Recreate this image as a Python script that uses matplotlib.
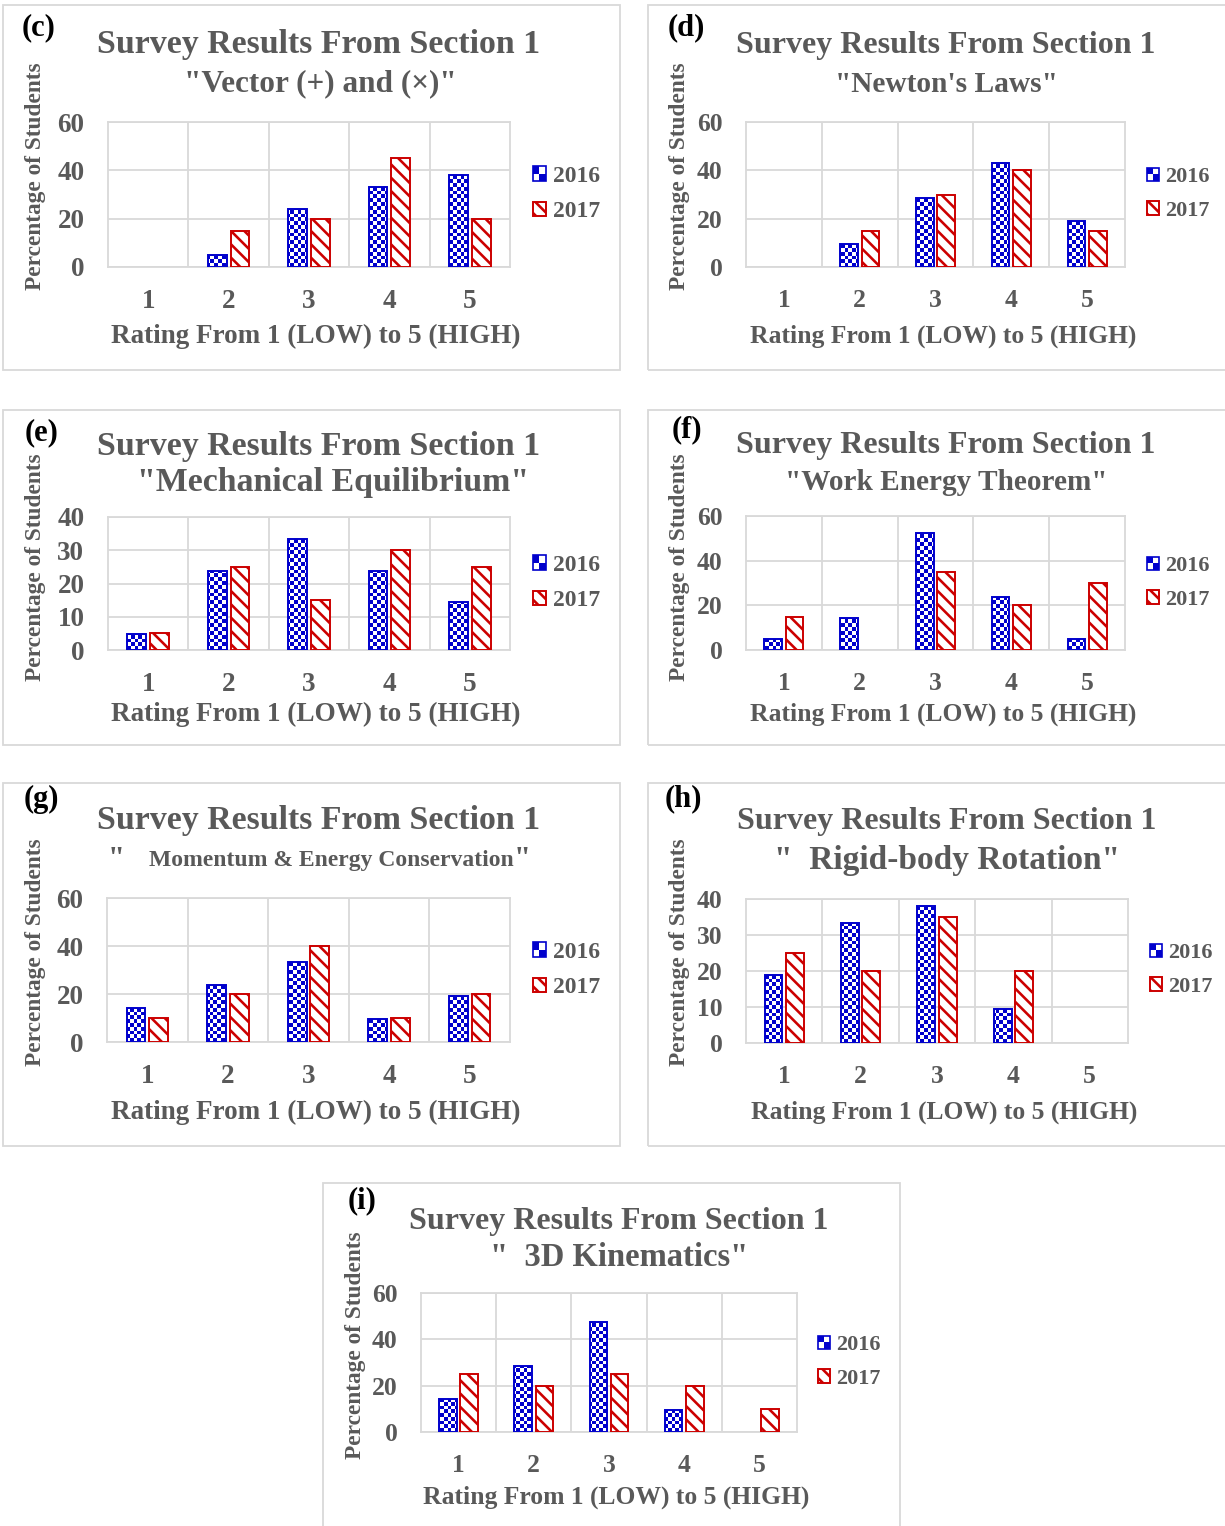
import matplotlib
matplotlib.use('Agg')
import matplotlib.pyplot as plt
import numpy as np
from matplotlib.colors import ListedColormap
from matplotlib.legend_handler import HandlerBase
from matplotlib.patches import Rectangle
from matplotlib.path import Path

# dpi 120 so that the hatch spacing matches the original (sizes below are
# given as if at 100 dpi and scaled by K)
DPI = 120
K = 100 / DPI

plt.rcParams['font.family'] = ['Liberation Serif', 'DejaVu Serif']
plt.rcParams['font.weight'] = 'bold'
plt.rcParams['hatch.linewidth'] = 2.6 * 72 / DPI

# data (percentage of students)
ratings = [1, 2, 3, 4, 5]
years = ['2016', '2017']

vector_2016 = [0, 4.8, 23.8, 33.3, 38.1]
vector_2017 = [0, 15, 20, 45, 20]
newton_2016 = [0, 9.5, 28.6, 42.9, 19.0]
newton_2017 = [0, 15, 30, 40, 15]
equil_2016 = [4.8, 23.8, 33.3, 23.8, 14.3]
equil_2017 = [5, 25, 15, 30, 25]
work_2016 = [4.8, 14.3, 52.4, 23.8, 4.8]
work_2017 = [15, 0, 35, 20, 30]
momentum_2016 = [14.3, 23.8, 33.3, 9.5, 19.0]
momentum_2017 = [10, 20, 40, 10, 20]
rigid_2016 = [19.0, 33.3, 38.1, 9.5, 0]
rigid_2017 = [25, 20, 35, 20, 0]
kinem_2016 = [14.3, 28.6, 47.6, 9.5, 0]
kinem_2017 = [25, 20, 25, 20, 10]

title = 'Survey Results From Section 1'
xlabel = 'Rating From 1 (LOW) to 5 (HIGH)'
ylabel = 'Percentage of Students'

BLUE = '#0000cc'
RED = '#cc0000'
GREY = '#595959'
LIGHT = '#d9d9d9'

W, H = 1225, 1526
fig = plt.figure(figsize=(W / DPI, H / DPI), dpi=DPI)


def fx(x):
    return x / W


def fy(y):
    return 1 - y / H


class CheckerHandler(HandlerBase):
    def create_artists(self, legend, orig_handle, xdescent, ydescent,
                       width, height, fontsize, trans):
        x0, y0 = -xdescent, -ydescent
        arts = [Rectangle((x0, y0), width, height, facecolor='white',
                          edgecolor=BLUE, lw=1.2 * K, transform=trans)]
        hw, hh = width / 2, height / 2
        for dx, dy in [(0, 1), (1, 0)]:
            arts.append(Rectangle((x0 + dx * hw, y0 + dy * hh), hw, hh,
                                  facecolor=BLUE, edgecolor='none', transform=trans))
        return arts


# layout in pixels: box, axes, title centre x, rows y, legend x / y
panels = [
    dict(tag='(c)', tagxy=(22, 28), sub=[('"Vector (+) and (×)"', 320, 22.5)],
         d16=vector_2016, d17=vector_2017, ymax=60, sc=1.0,
         box=(3, 5, 620, 370), ax=(108, 122, 510, 267), tx=319, ty=(45, 84),
         xl=(316, 336), yl=(36, 176), leg=(533, 194)),
    dict(tag='(d)', tagxy=(668, 28), sub=[('"Newton\'s Laws"', 946, 21.2)],
         d16=newton_2016, d17=newton_2017, ymax=60, sc=0.945,
         box=(648, 5, 1228, 370), ax=(746, 122, 1125, 267), tx=946, ty=(45, 84),
         xl=(943, 336), yl=(679, 176), leg=(1147, 194)),
    dict(tag='(e)', tagxy=(25, 433), sub=[('"Mechanical Equilibrium"', 333, 24.4)],
         d16=equil_2016, d17=equil_2017, ymax=40, sc=1.0,
         box=(3, 410, 620, 745), ax=(108, 517, 510, 650), tx=319, ty=(446, 482),
         xl=(316, 714), yl=(36, 567), leg=(533, 583)),
    dict(tag='(f)', tagxy=(672, 430), sub=[('"Work Energy Theorem"', 946, 21.1)],
         d16=work_2016, d17=work_2017, ymax=60, sc=0.945,
         box=(648, 410, 1228, 745), ax=(746, 516, 1125, 650), tx=946, ty=(446, 482),
         xl=(943, 714), yl=(679, 567), leg=(1147, 583)),
    dict(tag='(g)', tagxy=(24, 799),
         sub=[('"', 116, 22), ('Momentum & Energy Conservation', 331, 17), ('"', 522, 22)],
         d16=momentum_2016, d17=momentum_2017, ymax=60, sc=1.0,
         box=(3, 783, 620, 1146), ax=(107, 898, 510, 1042), tx=319, ty=(821, 860),
         xl=(316, 1112), yl=(36, 952), leg=(533, 970)),
    dict(tag='(h)', tagxy=(665, 799), sub=[('"  Rigid-body Rotation"', 947, 24)],
         d16=rigid_2016, d17=rigid_2017, ymax=40, sc=0.945,
         box=(648, 783, 1228, 1146), ax=(746, 899, 1128, 1043), tx=947, ty=(821, 860),
         xl=(944, 1112), yl=(679, 952), leg=(1150, 970)),
    dict(tag='(i)', tagxy=(348, 1201), sub=[('"  3D Kinematics"', 619, 23.5)],
         d16=kinem_2016, d17=kinem_2017, ymax=60, sc=0.945,
         box=(323, 1183, 900, 1530), ax=(421, 1293, 797, 1432), tx=619, ty=(1221, 1257),
         xl=(616, 1497), yl=(355, 1345), leg=(818, 1362)),
]

x = np.array(ratings, dtype=float)
w = 0.233
off = 0.141

for p in panels:
    sc = p['sc']
    # panel frame
    bx0, by0, bx1, by1 = p['box']
    fig.add_artist(Rectangle((fx(bx0), fy(by1)), (bx1 - bx0) / W, (by1 - by0) / H,
                             transform=fig.transFigure, fill=False,
                             edgecolor=LIGHT, lw=1.3 * K))
    ax0, ay0, ax1, ay1 = p['ax']
    ax = fig.add_axes([fx(ax0), fy(ay1), (ax1 - ax0) / W, (ay1 - ay0) / H])

    d16 = np.array(p['d16'])
    d17 = np.array(p['d17'])
    m16 = d16 > 0
    m17 = d17 > 0

    bars16 = ax.bar(x[m16] - off, d16[m16], w, facecolor='none',
                    edgecolor=BLUE, lw=1.4 * K, zorder=3)
    bars17 = ax.bar(x[m17] + off, d17[m17], w, facecolor='white',
                    edgecolor=RED, hatch='\\' * 3, lw=1.4 * K, zorder=3)

    # checkerboard fill for 2016 bars
    bb = ax.get_window_extent()
    cell = 3.8
    nr, nc = int(round(bb.height / cell)), int(round(bb.width / cell))
    checker = np.add.outer(np.arange(nr), np.arange(nc)) % 2
    im = ax.imshow(checker, cmap=ListedColormap(['white', BLUE]), extent=(0, 1, 0, 1),
                   transform=ax.transAxes, aspect='auto', interpolation='nearest',
                   zorder=2.5)
    clip = Path.make_compound_path(*[b.get_path().transformed(b.get_patch_transform())
                                     for b in bars16])
    im.set_clip_path(clip, ax.transData)

    ax.set_xlim(0.5, 5.5)
    ax.set_ylim(0, p['ymax'])
    ax.set_xticks(ratings)
    ax.set_xticks([1.5, 2.5, 3.5, 4.5], minor=True)
    ax.set_yticks(np.arange(0, p['ymax'] + 1, 20 if p['ymax'] == 60 else 10))
    ax.grid(which='minor', axis='x', color=LIGHT, lw=1.3 * K)
    ax.grid(which='major', axis='y', color=LIGHT, lw=1.3 * K)
    ax.set_axisbelow(True)
    for s in ax.spines.values():
        s.set_color(LIGHT)
        s.set_linewidth(1.3 * K)
    ax.tick_params(which='both', length=0)
    ax.tick_params(axis='y', pad=17 * K, labelsize=19.5 * sc * K, labelcolor=GREY)
    ax.tick_params(axis='x', pad=16 * K, labelsize=19.5 * sc * K, labelcolor=GREY)

    # texts
    fig.text(fx(p['tagxy'][0]), fy(p['tagxy'][1]), p['tag'], fontsize=22 * K,
             color='black', ha='left', va='center')
    fig.text(fx(p['tx']), fy(p['ty'][0]), title, fontsize=24.4 * sc * K, color=GREY,
             ha='center', va='center')
    for s, sx, fs in p['sub']:
        fig.text(fx(sx), fy(p['ty'][1]), s, fontsize=fs * K, color=GREY,
                 ha='center', va='center')
    fig.text(fx(p['xl'][0]), fy(p['xl'][1]), xlabel, fontsize=19.5 * sc * K,
             color=GREY, ha='center', va='center')
    fig.text(fx(p['yl'][0]), fy(p['yl'][1]), ylabel, fontsize=16.8 * K, color=GREY,
             ha='center', va='center', rotation=90)

    # legend
    ax.legend([bars16, bars17], years, handler_map={bars16: CheckerHandler()},
              loc='center left', bbox_to_anchor=(fx(p['leg'][0]), fy(p['leg'][1])),
              bbox_transform=fig.transFigure, frameon=False, fontsize=17 * sc * K,
              labelcolor=GREY, handlelength=0.55, handleheight=0.55,
              handletextpad=0.28, labelspacing=0.6, borderpad=0, borderaxespad=0)

fig.savefig('out.png', dpi=DPI, facecolor='white')
